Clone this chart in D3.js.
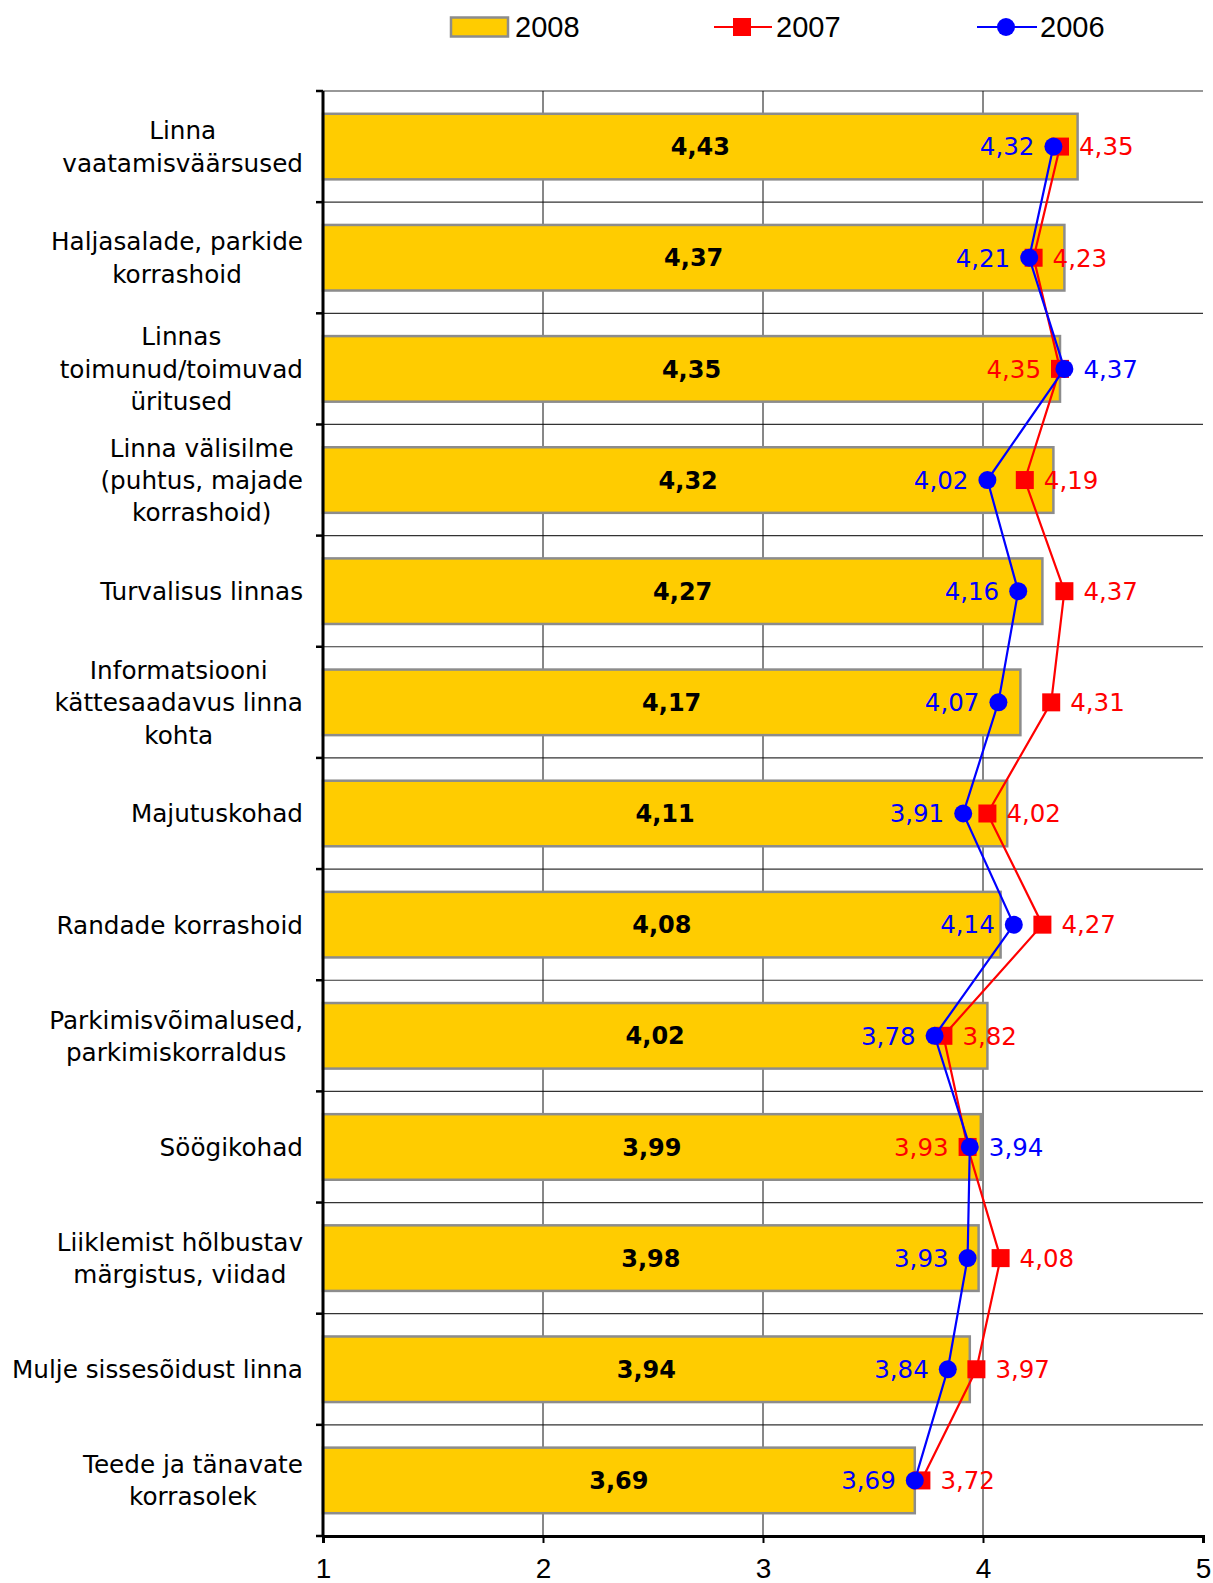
<!DOCTYPE html>
<html>
<head>
<meta charset="utf-8">
<script src="https://cdn.jsdelivr.net/npm/d3@7"></script>
<style>
  body { margin: 0; background: #fff; }
  svg { display: block; }
</style>
</head>
<body>
<svg width="1213" height="1583"></svg>
<script>
// categories (line breaks as in the original)
var categories = [
    "Linna\nvaatamisväärsused",
    "Haljasalade, parkide\nkorrashoid",
    "Linnas\ntoimunud/toimuvad\nüritused",
    "Linna välisilme\n(puhtus, majade\nkorrashoid)",
    "Turvalisus linnas",
    "Informatsiooni\nkättesaadavus linna\nkohta",
    "Majutuskohad",
    "Randade korrashoid",
    "Parkimisvõimalused,\nparkimiskorraldus",
    "Söögikohad",
    "Liiklemist hõlbustav\nmärgistus, viidad",
    "Mulje sissesõidust linna",
    "Teede ja tänavate\nkorrasolek"
];

var values2008 = [4.43, 4.37, 4.35, 4.32, 4.27, 4.17, 4.11, 4.08, 4.02, 3.99, 3.98, 3.94, 3.69];
var values2007 = [4.35, 4.23, 4.35, 4.19, 4.37, 4.31, 4.02, 4.27, 3.82, 3.93, 4.08, 3.97, 3.72];
var values2006 = [4.32, 4.21, 4.37, 4.02, 4.16, 4.07, 3.91, 4.14, 3.78, 3.94, 3.93, 3.84, 3.69];

var xTicks = [1, 2, 3, 4, 5];
var seriesNames = ["2008", "2007", "2006"];

var svg = d3.select("svg");

var margin = { top: 91, left: 323, right: 10, bottom: 47 };
var width = 1203 - margin.left;
var height = 1536 - margin.top;

var labelFont = "DejaVu Sans, Verdana, sans-serif";
var axisFont = "Liberation Sans, Arial, sans-serif";

var g = svg.append("g")
    .attr("transform", "translate(" + margin.left + "," + margin.top + ")");

var x = d3.scaleLinear().domain([1, 5]).range([0, width]);

var y = d3.scaleBand()
    .domain(d3.range(categories.length))
    .range([0, height])
    .paddingInner(0.41)
    .paddingOuter(0.205);

var step = y.step();
var fmt = function (v) { return d3.format(".2f")(v).replace(".", ","); };

// horizontal gridlines at category boundaries
g.selectAll(".hgrid")
    .data(d3.range(categories.length + 1))
    .enter().append("line")
    .attr("x1", 0).attr("x2", width)
    .attr("y1", function (i) { return i * step; })
    .attr("y2", function (i) { return i * step; })
    .attr("stroke", "#333")
    .attr("stroke-width", 1.2);

// vertical gridlines
g.selectAll(".vgrid")
    .data(xTicks.slice(1, -1))
    .enter().append("line")
    .attr("x1", function (d) { return x(d); })
    .attr("x2", function (d) { return x(d); })
    .attr("y1", 0).attr("y2", height)
    .attr("stroke", "#111")
    .attr("stroke-width", 1);

// bars 2008
g.selectAll(".bar")
    .data(values2008)
    .enter().append("rect")
    .attr("x", x(1))
    .attr("y", function (d, i) { return y(i); })
    .attr("width", function (d) { return x(d) - x(1); })
    .attr("height", y.bandwidth())
    .attr("fill", "#FFCC00")
    .attr("stroke", "#8c8c8c")
    .attr("stroke-width", 2.5);

// bar labels
g.selectAll(".barlabel")
    .data(values2008)
    .enter().append("text")
    .attr("x", function (d) { return (x(1) + x(d)) / 2; })
    .attr("y", function (d, i) { return y(i) + y.bandwidth() / 2; })
    .attr("dy", "0.36em")
    .attr("text-anchor", "middle")
    .style("font-family", labelFont)
    .style("font-weight", "bold")
    .style("font-size", "24px")
    .text(fmt);

// axes
var xAxis = g.append("g")
    .attr("transform", "translate(0," + height + ")")
    .call(d3.axisBottom(x).tickValues(xTicks).tickSize(7).tickFormat(d3.format("d")));
xAxis.select(".domain").attr("stroke", "#000").attr("stroke-width", 3);
xAxis.selectAll(".tick line").attr("stroke", "#000").attr("stroke-width", 2);
xAxis.selectAll(".tick text")
    .attr("y", 42)
    .attr("dy", 0)
    .style("font-family", axisFont)
    .style("font-size", "28px")
    .attr("fill", "#000");

var yAxis = g.append("g");
yAxis.append("line")
    .attr("x1", 0).attr("x2", 0)
    .attr("y1", 0).attr("y2", height)
    .attr("stroke", "#000").attr("stroke-width", 3);
yAxis.selectAll(".ytick")
    .data(d3.range(categories.length + 1))
    .enter().append("line")
    .attr("x1", -7).attr("x2", 0)
    .attr("y1", function (i) { return i * step; })
    .attr("y2", function (i) { return i * step; })
    .attr("stroke", "#000").attr("stroke-width", 2.5);

// category labels: lines centred in a block that is right aligned
var lineH = 32.3;
categories.forEach(function (c, i) {
    var lines = c.split("\n");
    var t = svg.append("text")
        .attr("text-anchor", "middle")
        .style("font-family", labelFont)
        .style("font-size", "24.7px")
        .attr("fill", "#000");
    var cy = margin.top + y(i) + y.bandwidth() / 2;
    lines.forEach(function (l, k) {
        t.append("tspan")
            .attr("y", cy + (k - (lines.length - 1) / 2) * lineH)
            .attr("dy", "0.36em")
            .text(l);
    });
    var maxW = 0;
    t.selectAll("tspan").each(function () {
        maxW = Math.max(maxW, this.getComputedTextLength());
    });
    t.selectAll("tspan").attr("x", 303 - maxW / 2);
});

// lines and markers for 2007 and 2006
var line = d3.line()
    .x(function (d) { return x(d); })
    .y(function (d, i) { return y(i) + y.bandwidth() / 2; });

g.append("path")
    .datum(values2007)
    .attr("d", line)
    .attr("fill", "none")
    .attr("stroke", "#FF0000")
    .attr("stroke-width", 2.2);

g.selectAll(".sq")
    .data(values2007)
    .enter().append("rect")
    .attr("x", function (d) { return x(d) - 9; })
    .attr("y", function (d, i) { return y(i) + y.bandwidth() / 2 - 9; })
    .attr("width", 18).attr("height", 18)
    .attr("fill", "#FF0000");

g.append("path")
    .datum(values2006)
    .attr("d", line)
    .attr("fill", "none")
    .attr("stroke", "#0000FF")
    .attr("stroke-width", 2.2);

g.selectAll(".dot")
    .data(values2006)
    .enter().append("circle")
    .attr("cx", function (d) { return x(d); })
    .attr("cy", function (d, i) { return y(i) + y.bandwidth() / 2; })
    .attr("r", 9)
    .attr("fill", "#0000FF");

// point labels: smaller value on the left, larger on the right
function pointLabels(vals, other, color) {
    g.selectAll(null)
        .data(vals)
        .enter().append("text")
        .attr("x", function (d, i) { return d > other[i] ? x(d) + 19 : x(d) - 19; })
        .attr("y", function (d, i) { return y(i) + y.bandwidth() / 2; })
        .attr("dy", "0.36em")
        .attr("text-anchor", function (d, i) { return d > other[i] ? "start" : "end"; })
        .attr("fill", color)
        .style("font-family", labelFont)
        .style("font-size", "24.5px")
        .text(fmt);
}
pointLabels(values2007, values2006, "#FF0000");
pointLabels(values2006, values2007, "#0000FF");

// legend
var leg = svg.append("g").attr("transform", "translate(0,27)");
leg.append("rect")
    .attr("x", 451).attr("y", -9.5)
    .attr("width", 57).attr("height", 19)
    .attr("fill", "#FFCC00")
    .attr("stroke", "#8c8c8c")
    .attr("stroke-width", 2.5);
leg.append("line")
    .attr("x1", 714).attr("x2", 772).attr("y1", 0).attr("y2", 0)
    .attr("stroke", "#FF0000").attr("stroke-width", 2.2);
leg.append("rect")
    .attr("x", 733).attr("y", -9).attr("width", 18).attr("height", 18)
    .attr("fill", "#FF0000");
leg.append("line")
    .attr("x1", 977).attr("x2", 1037).attr("y1", 0).attr("y2", 0)
    .attr("stroke", "#0000FF").attr("stroke-width", 2.2);
leg.append("circle")
    .attr("cx", 1006).attr("cy", 0).attr("r", 9)
    .attr("fill", "#0000FF");
leg.selectAll(".legtext")
    .data(seriesNames)
    .enter().append("text")
    .attr("x", function (d, i) { return [515, 776, 1040][i]; })
    .attr("y", 0)
    .attr("dy", "0.36em")
    .style("font-family", axisFont)
    .style("font-size", "29px")
    .attr("fill", "#000")
    .text(function (d) { return d; });
</script>
</body>
</html>
